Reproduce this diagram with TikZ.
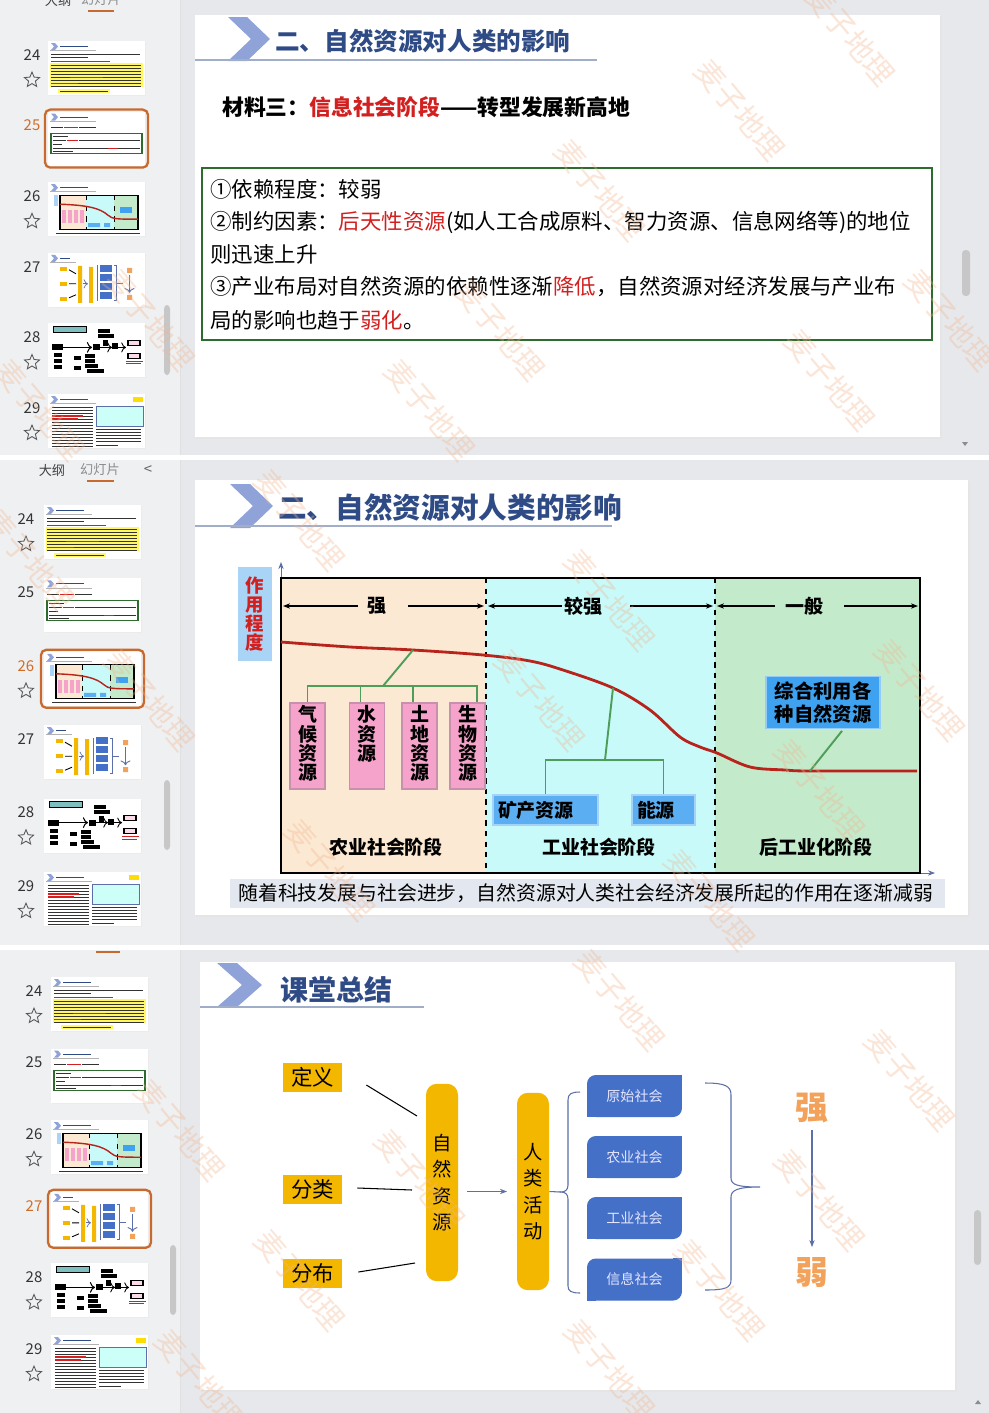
\documentclass[tikz,border=0pt]{standalone}
\usepackage{fontspec}
\setmainfont{Noto Sans CJK SC}
\usetikzlibrary{arrows.meta,positioning,shapes.geometric}

\definecolor{appgray}{HTML}{E6E8EB}
\definecolor{sidegray}{HTML}{EFF0F2}
\definecolor{titleblue}{HTML}{2F4B86}
\definecolor{chevblue}{HTML}{8FA3D9}
\definecolor{hired}{HTML}{D21F1F}
\definecolor{boxgreen}{HTML}{2E6B2E}
\definecolor{peach}{HTML}{FCE9D3}
\definecolor{cyanbg}{HTML}{C8FAFA}
\definecolor{greenbg}{HTML}{C3EACB}
\definecolor{curvered}{HTML}{B8231B}
\definecolor{linkgreen}{HTML}{4E9E5A}
\definecolor{pinkbox}{HTML}{F5A3CB}
\definecolor{pinkedge}{HTML}{C98FAE}
\definecolor{skybox}{HTML}{5BAEF2}
\definecolor{brightbox}{HTML}{3EA2F0}
\definecolor{axisblue}{HTML}{A9D4F5}
\definecolor{bannergray}{HTML}{E3E7EF}
\definecolor{gold}{HTML}{F3B700}
\definecolor{navybox}{HTML}{4470C8}
\definecolor{bracegray}{HTML}{5C6FA8}
\definecolor{orangetxt}{HTML}{F2A25A}
\definecolor{selorange}{HTML}{C8692E}
\definecolor{wmark}{HTML}{F2B58E}

\newcommand\pxfont[2]{\fontsize{#1}{#2}\selectfont}
\newcommand\colstack[1]{\parbox[c][1.62cm][t]{0.55cm}{\centering #1}}

\tikzset{
  slidettl/.style={anchor=west, inner sep=0pt, text=titleblue, font=\bfseries\pxfont{#1}{#1}},
  ttlline/.style={draw=titleblue!45, line width=0.7pt},
  bodyline/.style={anchor=west, inner sep=0pt, font=\pxfont{12.2}{14}},
  thumbnum/.style={inner sep=0pt, text=black!80, font=\pxfont{8.5}{8.5}},
  favstar/.style={star, star points=5, star point ratio=2.2, draw=black!65, line width=0.5pt, minimum size=9pt, inner sep=0pt},
  dimarrow/.style={-{Stealth[length=4pt,width=3pt]}, line width=0.8pt},
  dimlbl/.style={inner sep=0pt, font=\bfseries\pxfont{10.8}{10.8}},
  axisline/.style={-{Stealth[length=4pt,width=3pt]}, draw=bracegray, line width=0.5pt},
  linkg/.style={draw=linkgreen, line width=1.1pt},
  pinkres/.style={fill=pinkbox, draw=pinkedge, line width=1pt, minimum width=0.7cm, minimum height=1.72cm, inner sep=0pt, font=\bfseries\pxfont{10.8}{11}},
  skyres/.style={fill=skybox, draw=skybox!55!white, line width=1pt, text width=#1, align=left, inner xsep=0.1cm, minimum height=0.6cm, font=\bfseries\pxfont{10.8}{10.8}},
  brightres/.style={fill=brightbox, draw=brightbox!55!white, line width=1pt, minimum width=2.28cm, minimum height=1.04cm, align=left, inner sep=0pt, font=\bfseries\pxfont{11}{13}},
  stagelbl/.style={inner sep=0pt, font=\bfseries\pxfont{10.8}{10.8}},
  goldbox/.style={fill=gold, minimum width=1.18cm, minimum height=0.58cm, inner sep=0pt, font=\pxfont{12.2}{12.2}},
  pill/.style={fill=gold, rounded corners=0.22cm, minimum width=0.64cm, minimum height=3.95cm, inner sep=0pt, align=center, font=\pxfont{11}{15}},
  navyres/.style={fill=navybox, rounded corners=5pt, minimum width=1.9cm, minimum height=0.84cm, inner sep=0pt, text=white!90!blue, font=\pxfont{8}{8}},
  thinarrow/.style={-{Stealth[length=4pt,width=3pt]}, draw=bracegray, line width=0.6pt},
  bigch/.style={inner sep=0pt, text=orangetxt, font=\bfseries\pxfont{18.7}{18.7}},
  wmk/.style={rotate=-50, text=wmark, opacity=0.35, font=\pxfont{17}{17}},
  tline/.style={line width=0.5pt}
}

% mini slide pictures in the side bar
\newcommand\thumbhead{%
  \fill[chevblue] (3,2) -- (7,2) -- (10,5.5) -- (7,9) -- (3,9) -- (6,5.5) -- cycle;
  \draw[titleblue, line width=0.6pt] (12,5.5) -- (40,5.5);
  \draw[black!30, line width=0.3pt] (2,9.5) -- (48,9.5);
}
\newcommand\thumbart[1]{%
  \ifcase#1
    \thumbhead
    \draw[black!80, tline] (3,13) -- (92,13) (3,16) -- (40,16);
    \draw[hired, tline] (3,20) -- (62,20);
    \fill[yellow!60] (2,22) rectangle (95,46);
    \foreach \r in {24,27,...,45} \draw[black!80, tline] (3,\r) -- (93,\r);
    \draw[hired, tline] (22,36) -- (55,36) (3,42) -- (30,42);
    \fill[yellow!60] (10,48) rectangle (62,52);
    \draw[black!80, tline] (12,50) -- (60,50);
  \or
    \thumbhead
    \draw[black!80, tline] (3,16) -- (15,16) (31,16) -- (48,16);
    \draw[hired, tline] (16,16) -- (30,16);
    \draw[boxgreen, line width=0.8pt] (3,22) rectangle (94,42);
    \draw[black!80, tline] (5,25) -- (20,25) (5,29) -- (18,29) (31,29) -- (92,29) (5,33) -- (14,33) (5,37) -- (60,37) (70,37) -- (92,37) (5,40) -- (25,40);
    \draw[hired, tline] (19,29) -- (30,29) (60,37) -- (70,37);
  \or
    \thumbhead
    \fill[peach] (12,13) rectangle (38,47);
    \fill[cyanbg] (38,13) rectangle (66,47);
    \fill[greenbg] (66,13) rectangle (90,47);
    \draw[black, line width=0.7pt] (12,13) rectangle (90,47);
    \draw[black, line width=0.3pt, dashed] (38,13) -- (38,47) (66,13) -- (66,47);
    \fill[axisblue] (6,13) rectangle (10,24);
    \foreach \xx in {14,20,26,32} \fill[pinkbox] (\xx,28) rectangle (\xx+4,41);
    \fill[skybox] (40,41) rectangle (52,45) (56,41) rectangle (62,45);
    \fill[brightbox] (72,25) rectangle (84,31);
    \draw[curvered, line width=0.8pt] (12,22) .. controls (40,23) and (52,26) .. (60,33) .. controls (64,37) and (70,37) .. (90,37);
    \draw[black!80, tline] (8,51) -- (92,51);
  \or
    \fill[chevblue] (3,2) -- (7,2) -- (10,5.5) -- (7,9) -- (3,9) -- (6,5.5) -- cycle;
    \draw[titleblue, line width=0.6pt] (12,5.5) -- (22,5.5);
    \draw[black!30, line width=0.3pt] (2,9.5) -- (28,9.5);
    \foreach \yy in {14,29,44} \fill[gold] (12,\yy) rectangle (19,\yy+4);
    \draw[black, line width=0.5pt] (21,17) -- (28,21) (21,31) -- (28,31) (21,45) -- (28,42);
    \fill[gold] (30,13) rectangle (34,50) (41,14) rectangle (45,50);
    \draw[bracegray, line width=0.4pt, ->] (35,31) -- (40,31);
    \foreach \yy in {12,21,30,39} \fill[navybox] (52,\yy) rectangle (64,\yy+7);
    \draw[bracegray, line width=0.5pt] (50,13) -- (49,13) -- (49,48) -- (50,48) (66,13) -- (68,13) -- (68,48) -- (66,48) (68,31) -- (75,31);
    \fill[orangetxt] (79,15) rectangle (84,20) (79,42) rectangle (84,47);
    \draw[bracegray, line width=0.5pt, ->] (81.5,22) -- (81.5,40);
  \or
    \fill[teal!50] (5,3) rectangle (38,9);
    \draw[black, line width=0.4pt] (5,3) rectangle (38,9);
    \draw[black, line width=0.6pt, ->] (15,24) -- (44,24);
    \foreach \a/\b/\c/\d in {4/21/15/27, 6/30/14/34, 6/36/14/40, 6/42/14/46, 26/33/33/37, 26/43/33/47, 37/31/47/35, 37/36/47/40, 37/41/50/45, 39/46/56/50, 45/21/52/27, 50/6/62/10, 50/11/66/15, 55/17/60/23, 64/20/70/26}
      \fill[black] (\a,\b) rectangle (\c,\d);
    \draw[black, line width=0.5pt, ->] (52,24) -- (64,24);
    \draw[black, line width=0.5pt, ->] (70,24) -- (78,24);
    \foreach \b in {17,30} \draw[black, fill=pinkbox!40, line width=0.6pt] (80,\b) rectangle (92,\b+5);
    \draw[hired, line width=0.5pt] (78,38) -- (95,38) (78,40.5) -- (93,40.5);
  \or
    \thumbhead
    \fill[yellow!80!orange] (85,3) rectangle (95,8);
    \foreach \r in {13,16,...,52} \draw[black!80, tline] (4,\r) -- (45,\r);
    \draw[hired, line width=0.7pt] (4,22) -- (35,22) (4,25) -- (30,25);
    \fill[green!15!cyan!20] (48,12) rectangle (95,32);
    \draw[bracegray, line width=0.3pt] (48,12) rectangle (95,32);
    \foreach \r in {35,38,...,47} \draw[black!80, tline] (48,\r) -- (93,\r);
    \draw[black!80, tline] (48,51) -- (70,51);
  \fi}

% #1 number x, #2 thumb x, #3 first thumb y, #4 step, #5 selected, #6 name prefix
\newcommand\thumbstrip[6]{%
  \foreach \i [evaluate=\i as \ty using #3+\i*#4, count=\k from 24] in {0,...,5}{
    \fill[black!8] (#2+1,\ty+1) rectangle (#2+98,\ty+55);
    \fill[white] (#2,\ty) rectangle (#2+97,\ty+54);
    \begin{scope}[shift={(#2,\ty)}]
      \thumbart{\i}
    \end{scope}
    \ifnum\i=#5
      \draw[selorange, line width=1.3pt, rounded corners=3pt] (#2-3,\ty-2) rectangle (#2+100,\ty+56);
      \node[thumbnum, text=selorange!85!orange] (#6n\k) at (#1,\ty+14) {\k};
    \else
      \node[thumbnum] (#6n\k) at (#1,\ty+14) {\k};
    \fi
    \ifnum\i=1 \else\ifnum\i=3 \else
      \node[favstar] (#6s\k) at (#1,\ty+39) {};
    \fi\fi
  }
}

\begin{document}
\begin{tikzpicture}[x=0.02cm, y=-0.02cm]
\useasboundingbox (0,0) rectangle (989,1413);
\fill[white] (0,0) rectangle (989,1413);

% window backgrounds
\foreach \ya/\yb in {0/455, 460/945, 950/1413}{
  \fill[appgray] (0,\ya) rectangle (989,\yb);
  \fill[sidegray] (0,\ya) rectangle (180,\yb);
  \draw[black!12] (180,\ya) -- (180,\yb);
}

% side bars
\begin{scope}
  \clip (0,0) rectangle (180,455);
  \node[font=\pxfont{7.5}{7.5}, text=black!75] (dg1) at (58,0) {大纲};
  \node[font=\pxfont{7.5}{7.5}, text=black!45] (hd1) at (101,0) {幻灯片};
  \draw[selorange, line width=1.2pt] (88,11) -- (114,11);
\end{scope}
\thumbstrip{32}{48}{41}{70.6}{1}{a}
\fill[black!22, rounded corners=2pt] (164,305) rectangle (170,375);

\node[font=\pxfont{7.5}{7.5}, text=black!75] (dg2) at (52,470) {大纲};
\node[font=\pxfont{7.5}{7.5}, text=black!45] (hd2) at (100,470) {幻灯片};
\node[font=\pxfont{8.5}{8.5}, text=black!60] (lt2) at (148,470) {<};
\draw[selorange, line width=1.2pt] (87,481) -- (114,481);
\thumbstrip{26}{44}{505}{73.4}{2}{b}
\fill[black!22, rounded corners=2pt] (164,780) rectangle (170,850);

\draw[selorange, line width=1.2pt] (96,952) -- (120,952);
\thumbstrip{34}{51}{977}{71.6}{3}{c}
\fill[black!22, rounded corners=2pt] (170,1245) rectangle (176,1315);

% right scroll bars
\fill[black!22, rounded corners=2pt] (962,250) rectangle (970,296);
\fill[black!45] (962,442) -- (968,442) -- (965,446) -- cycle;
\fill[black!22, rounded corners=2pt] (974,1210) rectangle (981,1265);
\fill[black!45] (975,1404) -- (981,1404) -- (978,1400) -- cycle;

% ---- slide 25
\fill[black!10] (196,16) rectangle (942,439);
\fill[white] (195,15) rectangle (940,437);
\fill[chevblue] (228,17) -- (247,17) -- (270,39) -- (247,61) -- (228,61) -- (251,39) -- cycle;
\draw[ttlline] (195,60) -- (597,60);
\node[slidettl=14] (t25) at (275,41) {二、自然资源对人类的影响};
\node[anchor=west, inner sep=0pt, font=\bfseries\pxfont{12.4}{12.4}] (m3) at (222,107) {材料三：\textcolor{hired}{信息社会阶段}——转型发展新高地};
\draw[boxgreen, line width=1.6pt] (202,168) rectangle (932,340);
\node[bodyline] (l1) at (210,189) {①依赖程度：较弱};
\node[bodyline] (l2) at (210,222) {②制约因素：\textcolor{hired}{后天性资源}(如人工合成原料、智力资源、信息网络等)的地位};
\node[bodyline] (l3) at (210,254) {则迅速上升};
\node[bodyline] (l4) at (210,287) {③产业布局对自然资源的依赖性逐渐\textcolor{hired}{降低}，自然资源对经济发展与产业布};
\node[bodyline] (l5) at (210,320) {局的影响也趋于\textcolor{hired}{弱化}。};

% ---- slide 26
\fill[black!10] (196,481) rectangle (970,917);
\fill[white] (195,480) rectangle (968,915);
\fill[chevblue] (230,484) -- (250,484) -- (273,506) -- (250,528) -- (230,528) -- (253,506) -- cycle;
\draw[ttlline] (195,526) -- (612,526);
\node[slidettl=16.3] (t26) at (278,508) {二、自然资源对人类的影响};

\fill[peach] (281,578) rectangle (486,873);
\fill[cyanbg] (486,578) rectangle (715,873);
\fill[greenbg] (715,578) rectangle (920,873);
\coordinate (ax0) at (281,873);
\coordinate (axy) at (281,562);
\coordinate (axx) at (935,873);
\draw[axisline] (ax0) -- (axy);
\draw[axisline] (ax0) -- (axx);
\draw[black, line width=1.1pt] (281,578) rectangle (920,873);
\draw[black, line width=0.6pt, dashed] (486,578) -- (486,873) (715,578) -- (715,873);

\node[fill=axisblue, minimum width=0.68cm, minimum height=1.9cm, inner sep=0pt, text=hired, font=\bfseries\pxfont{10.5}{10.8}, align=center] (zycd) at (255,614) {作\\用\\程\\度};

\coordinate (d0) at (283,606);
\coordinate (d1l) at (484,606);
\coordinate (d1r) at (488,606);
\coordinate (d2l) at (713,606);
\coordinate (d2r) at (717,606);
\coordinate (d3) at (918,606);
\node[dimlbl] (qs) at (377,606) {强};
\node[dimlbl] (jq) at (583,606) {较强};
\node[dimlbl] (yb) at (804,606) {一般};
\draw[dimarrow] (qs.west) ++(-9,0) -- (d0);
\draw[dimarrow] (qs.east) ++(21,0) -- (d1l);
\draw[dimarrow] (jq.west) ++(-2,0) -- (d1r);
\draw[dimarrow] (jq.east) ++(28,0) -- (d2l);
\draw[dimarrow] (yb.west) ++(-10,0) -- (d2r);
\draw[dimarrow] (yb.east) ++(21,0) -- (d3);

% curve of the role of resources
\draw[curvered, line width=1.6pt] plot[smooth, tension=0.55] coordinates {(281,642) (350,647) (413,650) (483,655) (530,661) (563,670) (613,688) (650,710) (680,737) (700,747) (717,753) (750,767) (785,770) (810,771) (917,771)};
\coordinate (agpt) at (413,650);
\coordinate (gypt) at (613,688);
\coordinate (hgpt) at (810,771);

% agriculture
\node[pinkres] (qh) at (307.5,746) {\colstack{气\\候\\资\\源}};
\node[pinkres] (ss) at (367,746) {\colstack{水\\资\\源}};
\node[pinkres] (td) at (419.5,746) {\colstack{土\\地\\资\\源}};
\node[pinkres] (sw) at (467.5,746) {\colstack{生\\物\\资\\源}};
\coordinate (agfork) at (383,686);
\coordinate (ssin) at ([xshift=-0.13cm]ss.north);
\coordinate (tdin) at ([xshift=-0.13cm]td.north);
\coordinate (swin) at ([xshift=0.19cm]sw.north);
\draw[linkg] (agpt) -- (agfork);
\draw[linkg] (qh.north) |- (agfork) -| (swin);
\draw[linkg] (ssin) -- (ssin |- agfork);
\draw[linkg] (tdin) -- (tdin |- agfork);

% industry
\node[skyres=1.9cm] (kc) at (545.5,810) {矿产资源};
\node[skyres=1.06cm] (ny) at (663.5,810) {能源};
\coordinate (gyfork) at (605,760);
\draw[linkg] (gypt) -- (gyfork);
\draw[linkg] (kc.north) |- (gyfork) -| (ny.north);

% post-industry
\node[brightres] (zh) at (823,702.5) {综合利用各\\种自然资源};
\draw[linkg] (zh.south) ++(19,1.5) -- (hgpt);

\node[stagelbl] (nysh) at (386,847) {农业社会阶段};
\node[stagelbl] (gysh) at (599,847) {工业社会阶段};
\node[stagelbl] (hgyh) at (816,847) {后工业化阶段};

\fill[bannergray] (230,879) rectangle (945,908);
\node[anchor=west, inner sep=0pt, font=\pxfont{11.3}{11.3}] (bn) at (238,893) {随着科技发展与社会进步，自然资源对人类社会经济发展所起的作用在逐渐减弱};

% ---- slide 27
\fill[black!10] (201,963) rectangle (957,1392);
\fill[white] (200,962) rectangle (955,1390);
\fill[chevblue] (217,963) -- (237,963) -- (262,985) -- (237,1007) -- (217,1007) -- (242,985) -- cycle;
\draw[ttlline] (200,1007) -- (424,1007);
\node[slidettl=15.9] (t27) at (280,990) {课堂总结};

\node[goldbox] (dy) at (312.5,1077.5) {定义};
\node[goldbox] (fl) at (312.5,1189.5) {分类};
\node[goldbox] (fb) at (312.5,1273.5) {分布};
\node[pill] (zr) at (442,1182.5) {自\\然\\资\\源};
\node[pill] (rl) at (533,1191.5) {人\\类\\活\\动};
\coordinate (zrin1) at (417,1116);
\coordinate (zrin2) at (412,1190);
\coordinate (zrin3) at (415,1263);
\draw[black, line width=0.6pt] (dy.east) ++(24,7.5) -- (zrin1);
\draw[black, line width=0.6pt] (fl.east) ++(15,-1.5) -- (zrin2);
\draw[black, line width=0.6pt] (fb.east) ++(16,-1.5) -- (zrin3);
\draw[thinarrow, shorten <=5pt, shorten >=5.5pt] (zr.east |- rl.west) -- (rl.west);

\coordinate (lbtip) at (561,1192);
\draw[bracegray, line width=0.6pt] (rl.east) -- (lbtip);
\draw[bracegray, line width=0.6pt] (580,1092) .. controls (571,1092) and (568,1094) .. (568,1100) -- (568,1185) .. controls (568,1190) and (565,1192) .. (lbtip) .. controls (565,1192) and (568,1194) .. (568,1199) -- (568,1286) .. controls (568,1291) and (571,1293) .. (580,1293);

\node[navyres] (ys) at (634.5,1096) {原始社会};
\node[navyres] (nys) at (634.5,1157) {农业社会};
\node[navyres] (gys) at (634.5,1218) {工业社会};
\node[navyres] (xxs) at (634.5,1279.5) {信息社会};
\foreach \b in {ys,nys,gys,xxs}{
  \fill[navybox] (\b.north east) rectangle ([shift={(-9,9)}]\b.north east);
  \fill[navybox] (\b.south west) rectangle ([shift={(9,-9)}]\b.south west);
}

\coordinate (rbtip) at (760,1187);
\draw[bracegray, line width=0.6pt] (705,1083) .. controls (725,1083) and (731,1086) .. (731,1095) -- (731,1178) .. controls (731,1185) and (738,1187) .. (rbtip) .. controls (738,1187) and (731,1190) .. (731,1197) -- (731,1280) .. controls (731,1288) and (725,1290) .. (705,1290);

\node[bigch] (qg) at (812,1108) {强};
\node[bigch] (ro) at (812,1273) {弱};
\draw[thinarrow, shorten <=4pt, shorten >=6pt] (qg) -- (ro);

% watermarks
\foreach \wx/\wy [count=\n] in {850/35, 740/110, 600/190, 500/330, 430/410, 830/380, 950/320, 150/320, 40/410,
  300/520, 610/600, 540/700, 920/690, 820/790, 710/900, 330/870, 150/700, 30/560,
  620/1000, 910/1080, 420/1180, 820/1200, 720/1290, 610/1370, 300/1280, 200/1380, 180/1130}
  \node[wmk] (wm\n) at (\wx,\wy) {麦子地理};

\end{tikzpicture}
\end{document}
